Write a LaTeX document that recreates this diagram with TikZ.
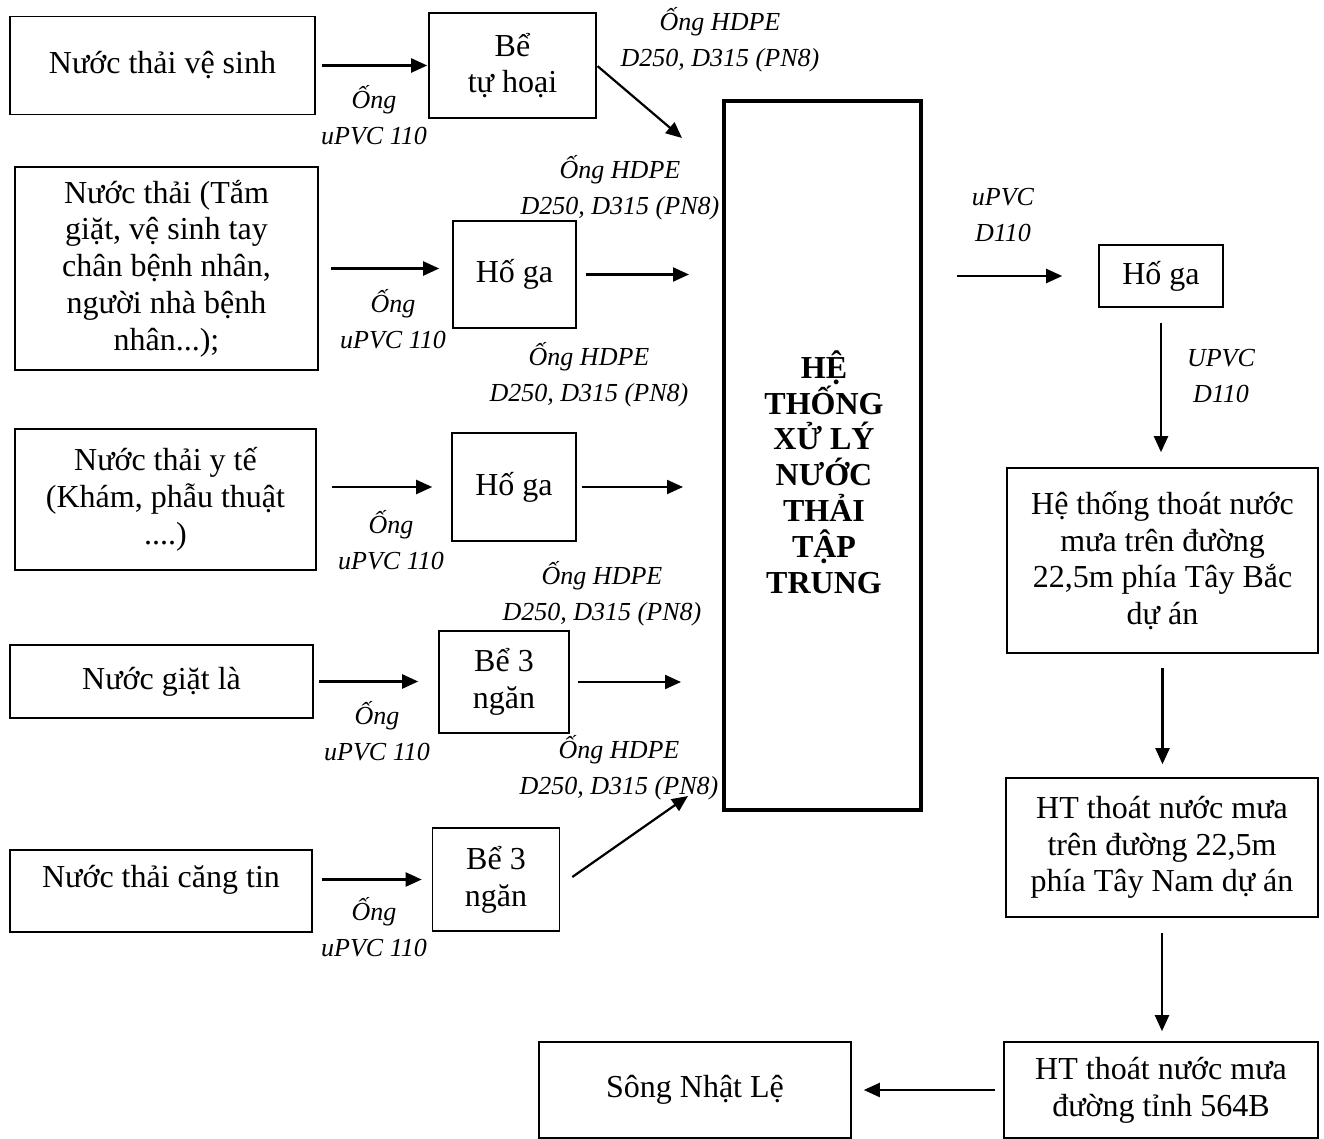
\documentclass[tikz,border=0pt]{standalone}
\usepackage{fontspec}
\setmainfont{Liberation Serif}
\usetikzlibrary{arrows.meta}
\begin{document}
\begin{tikzpicture}[x=0.5pt,y=-0.5pt,
  box/.style={draw, line width=0.8pt, inner sep=0pt, align=center, font=\fontsize{16}{18.4}\selectfont},
  lbl/.style={align=center, inner sep=0pt, font=\fontsize{13}{18}\selectfont\itshape},
  arr/.style={line width=1.1pt, -{Triangle[length=8pt,width=7pt]}}]
\useasboundingbox (0,0) rectangle (1324,1139);
% boxes
\node[box, minimum width=152.5pt, minimum height=49pt] (A1) at (162.5,65.5) {Nước thải vệ sinh};
\node[box, minimum width=83.5pt, minimum height=52.5pt] (B1) at (512.5,65.5) {Bể\\tự hoại};
\node[draw, line width=2pt, minimum width=98.5pt, minimum height=354.5pt, inner sep=0pt] (main) at (822.5,455.5) {};
\node[inner sep=0pt, align=center, font=\fontsize{16}{17.9}\selectfont\bfseries] (maintxt) at (824,472) {HỆ\\THỐNG\\XỬ LÝ\\NƯỚC\\THẢI\\TẬP\\TRUNG};
\node[box, minimum width=151.5pt, minimum height=101.5pt] (A2) at (166.5,268.5) {Nước thải (Tắm\\giặt, vệ sinh tay\\chân bệnh nhân,\\người nhà bệnh\\nhân...);};
\node[box, minimum width=61.5pt, minimum height=53.5pt] (B2) at (514.5,274.5) {Hố ga};
\node[box, minimum width=150.5pt, minimum height=70.5pt] (A3) at (165.5,499.5) {Nước thải y tế\\(Khám, phẫu thuật\\....)};
\node[box, minimum width=62pt, minimum height=54pt] (B3) at (514,487) {Hố ga};
\node[box, minimum width=151.5pt, minimum height=36.5pt] (A4) at (161.5,681.5) {Nước giặt là};
\node[box, minimum width=65pt, minimum height=51pt] (B4) at (504,682) {Bể 3\\ngăn};
\node[box, minimum width=151pt, minimum height=41pt] (A5) at (161,891) {\raisebox{5.5pt}[\height][\depth]{Nước thải căng tin}};
\node[box, minimum width=63.5pt, minimum height=51.5pt] (B5) at (496,879.5) {Bể 3\\ngăn};
\node[box, minimum width=62pt, minimum height=31pt] (C1) at (1161,276) {Hố ga};
\node[box, minimum width=155.5pt, minimum height=92.5pt] (C2) at (1162.5,560.5) {Hệ thống thoát nước\\mưa trên đường\\22,5m phía Tây Bắc\\dự án};
\node[box, minimum width=156pt, minimum height=69.5pt] (C3) at (1162,847.5) {HT thoát nước mưa\\trên đường 22,5m\\phía Tây Nam dự án};
\node[box, minimum width=157pt, minimum height=48pt] (C4) at (1161,1090) {HT thoát nước mưa\\đường tỉnh 564B};
\node[box, minimum width=156pt, minimum height=48pt] (D) at (695,1090) {Sông Nhật Lệ};
% free ends
\coordinate (t1) at (682,138);
\coordinate (t5) at (688,796);
% arrows
\draw[arr, shorten <=3pt, shorten >=0.5pt] (A1.east) -- (B1.west);
\draw[arr, shorten <=0.5pt] (B1.east) -- (t1);
\draw[arr, shorten <=6pt, shorten >=6.5pt] (A2.east) -- (A2.east -| B2.west);
\draw[arr, shorten <=4.5pt, shorten >=16.5pt] (B2.east) -- (B2.east -| main.west);
\draw[arr, shorten <=7.5pt, shorten >=9.5pt] (B3.west -| A3.east) -- (B3.west);
\draw[arr, shorten <=2.5pt, shorten >=19.5pt] (B3.east) -- (B3.east -| main.west);
\draw[arr, shorten <=2.5pt, shorten >=10pt] (A4.east) -- (A4.east -| B4.west);
\draw[arr, shorten <=4pt, shorten >=20.5pt] (B4.east) -- (B4.east -| main.west);
\draw[arr, shorten <=4.5pt, shorten >=5pt] (B5.west -| A5.east) -- (B5.west);
\draw[arr] ([xshift=6pt,yshift=1.25pt]B5.east) -- (t5);
\draw[arr, shorten <=17pt, shorten >=18pt] (C1.west -| main.east) -- (C1.west);
\draw[arr, shorten <=7.5pt, shorten >=7.5pt] (C1.south) -- (C1.south |- C2.north);
\draw[arr, shorten <=7pt, shorten >=6.5pt] (C2.south) -- (C2.south |- C3.north);
\draw[arr, shorten <=7.5pt, shorten >=5pt] (C3.south) -- (C3.south |- C4.north);
\draw[arr, shorten <=4pt, shorten >=6pt] (C4.west) -- (C4.west -| D.east);
% labels
\node[lbl] (L1) at (374,115) {Ống\\uPVC 110};
\node[lbl] (L2) at (720,40) {Ống HDPE\\D250, D315 (PN8)};
\node[lbl] (L3) at (393,319) {Ống\\uPVC 110};
\node[lbl] (L4) at (620,188) {Ống HDPE\\D250, D315 (PN8)};
\node[lbl] (L5) at (589,375) {Ống HDPE\\D250, D315 (PN8)};
\node[lbl] (L6) at (391,540) {Ống\\uPVC 110};
\node[lbl] (L7) at (602,594) {Ống HDPE\\D250, D315 (PN8)};
\node[lbl] (L8) at (377,731) {Ống\\uPVC 110};
\node[lbl] (L9) at (619,768) {Ống HDPE\\D250, D315 (PN8)};
\node[lbl] (L10) at (374,927) {Ống\\uPVC 110};
\node[lbl] (L11) at (1003,215) {uPVC\\D110};
\node[lbl] (L12) at (1221,376) {UPVC\\D110};
\end{tikzpicture}
\end{document}
